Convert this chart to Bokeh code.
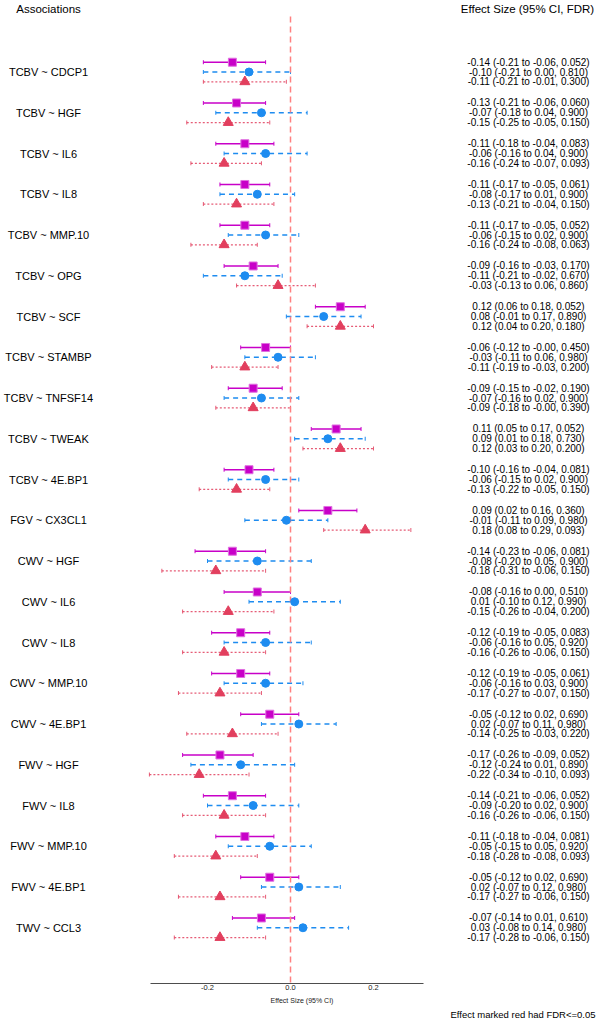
from bokeh.plotting import figure
from bokeh.models import (ColumnDataSource, Range1d, Whisker, Title,
                          TeeHead, Legend, LegendItem, FixedTicker)
from bokeh.embed import file_html
from bokeh.resources import INLINE
from bokeh.core.properties import value

associations = ["TCBV ~ CDCP1", "TCBV ~ HGF", "TCBV ~ IL6", "TCBV ~ IL8", "TCBV ~ MMP.10",
                "TCBV ~ OPG", "TCBV ~ SCF", "TCBV ~ STAMBP", "TCBV ~ TNFSF14", "TCBV ~ TWEAK",
                "TCBV ~ 4E.BP1", "FGV ~ CX3CL1", "CWV ~ HGF", "CWV ~ IL6", "CWV ~ IL8",
                "CWV ~ MMP.10", "CWV ~ 4E.BP1", "FWV ~ HGF", "FWV ~ IL8", "FWV ~ MMP.10",
                "FWV ~ 4E.BP1", "TWV ~ CCL3"]

full_est = [-0.14, -0.13, -0.11, -0.11, -0.11, -0.09, 0.12, -0.06, -0.09, 0.11, -0.10, 0.09,
            -0.14, -0.08, -0.12, -0.12, -0.05, -0.17, -0.14, -0.11, -0.05, -0.07]
full_lo = [-0.21, -0.21, -0.18, -0.17, -0.17, -0.16, 0.06, -0.12, -0.15, 0.05, -0.16, 0.02,
           -0.23, -0.16, -0.19, -0.19, -0.12, -0.26, -0.21, -0.18, -0.12, -0.14]
full_hi = [-0.06, -0.06, -0.04, -0.05, -0.05, -0.03, 0.18, -0.0, -0.02, 0.17, -0.04, 0.16,
           -0.06, 0.00, -0.05, -0.05, 0.02, -0.09, -0.06, -0.04, 0.02, 0.01]
full_fdr = [0.052, 0.060, 0.083, 0.061, 0.052, 0.170, 0.052, 0.450, 0.190, 0.052, 0.081, 0.360,
            0.081, 0.510, 0.083, 0.061, 0.690, 0.052, 0.052, 0.081, 0.690, 0.610]

female_est = [-0.10, -0.07, -0.06, -0.08, -0.06, -0.11, 0.08, -0.03, -0.07, 0.09, -0.06, -0.01,
              -0.08, 0.01, -0.06, -0.06, 0.02, -0.12, -0.09, -0.05, 0.02, 0.03]
female_lo = [-0.21, -0.18, -0.16, -0.17, -0.15, -0.21, -0.01, -0.11, -0.16, 0.01, -0.15, -0.11,
             -0.20, -0.10, -0.16, -0.16, -0.07, -0.24, -0.20, -0.15, -0.07, -0.08]
female_hi = [0.00, 0.04, 0.04, 0.01, 0.02, -0.02, 0.17, 0.06, 0.02, 0.18, 0.02, 0.09,
             0.05, 0.12, 0.05, 0.03, 0.11, 0.01, 0.02, 0.05, 0.12, 0.14]
female_fdr = [0.810, 0.900, 0.900, 0.900, 0.900, 0.670, 0.890, 0.980, 0.900, 0.730, 0.900, 0.980,
              0.900, 0.990, 0.920, 0.900, 0.980, 0.890, 0.900, 0.920, 0.980, 0.980]

male_est = [-0.11, -0.15, -0.16, -0.13, -0.16, -0.03, 0.12, -0.11, -0.09, 0.12, -0.13, 0.18,
            -0.18, -0.15, -0.16, -0.17, -0.14, -0.22, -0.16, -0.18, -0.17, -0.17]
male_lo = [-0.21, -0.25, -0.24, -0.21, -0.24, -0.13, 0.04, -0.19, -0.18, 0.03, -0.22, 0.08,
           -0.31, -0.26, -0.26, -0.27, -0.25, -0.34, -0.26, -0.28, -0.27, -0.28]
male_hi = [-0.01, -0.05, -0.07, -0.04, -0.08, 0.06, 0.20, -0.03, -0.0, 0.20, -0.05, 0.29,
           -0.06, -0.04, -0.06, -0.07, -0.03, -0.10, -0.06, -0.08, -0.06, -0.06]
male_fdr = [0.300, 0.150, 0.093, 0.150, 0.063, 0.860, 0.180, 0.200, 0.390, 0.200, 0.150, 0.093,
            0.150, 0.200, 0.150, 0.150, 0.220, 0.093, 0.150, 0.093, 0.150, 0.150]

series_labels = ["Full (n=646)", "Female (n=338)", "Male (n=308)"]
tick_values = [-0.2, 0.0, 0.2]
tick_labels = ["-0.2", "0.0", "0.2"]

FONT = "Liberation Sans"
C_FULL = "#C800C8"
C_FEM = "#1E8CF0"
C_MALE = "#E23F5E"

n = len(associations)
OFF = 0.24
W, H = 603, 1032
BOT = 983          # pixel row of the x axis line
TOP = 16           # top of the reference line
# layout mapping (pixels -> data) used only to place texts
G0, GS = 71.5, 40.75     # group i centre at row 71.5 + 40.75*i
X0, XS = 290.0, 415.0    # effect 0 at column 290, 415 px per unit


def gy(py):
    return (py - G0) / GS


def gx(px):
    return (px - X0) / XS


def fmt(e, l, h, f):
    return f"{e:.2f} ({l:.2f} to {h:.2f}, {f:.3f})"


def make_src(est, lo, hi, fdr, off):
    return ColumnDataSource(dict(
        y=[i + off for i in range(n)], est=est, lo=lo, hi=hi,
        txt=[fmt(*t) for t in zip(est, lo, hi, fdr)]))


src_full = make_src(full_est, full_lo, full_hi, full_fdr, -OFF)
src_fem = make_src(female_est, female_lo, female_hi, female_fdr, 0.0)
src_male = make_src(male_est, male_lo, male_hi, male_fdr, OFF)
src_lab = ColumnDataSource(dict(y=list(range(n)), name=associations))

p = figure(frame_width=W, frame_height=BOT,
           x_range=Range1d(gx(0), gx(W)), y_range=Range1d(gy(BOT), gy(0)),
           y_axis_location=None, output_backend="svg", toolbar_location=None,
           min_border_left=0, min_border_right=0, min_border_top=0,
           min_border_bottom=0)
p.outline_line_color = None
p.xgrid.visible = False
p.ygrid.visible = False

ax = p.xaxis[0]
ax.bounds = (gx(150), gx(423))
ax.ticker = FixedTicker(ticks=tick_values)
ax.major_label_overrides = {v: s for v, s in zip(tick_values, tick_labels)}
ax.major_tick_out = 0
ax.major_tick_in = 0
ax.minor_tick_out = 0
ax.minor_tick_in = 0
ax.axis_line_color = "#4d4d4d"
ax.axis_line_width = 1
ax.major_label_text_font = FONT
ax.major_label_text_font_size = "7.5px"
ax.major_label_text_color = "#222222"
ax.major_label_standoff = 1
ax.axis_label = "Effect Size (95% CI)"
ax.axis_label_text_font = FONT
ax.axis_label_text_font_style = "normal"
ax.axis_label_text_font_size = "7px"
ax.axis_label_text_color = "#222222"
ax.axis_label_standoff = 4

# reference line at zero
p.segment(x0=[0.0], y0=[gy(TOP)], x1=[0.0], y1=[gy(BOT)], line_color="#FF8080",
          line_dash="6 4", line_width=1.5)

styles = [
    (src_full, C_FULL, "solid", 1.6, 1.0),
    (src_fem, C_FEM, "5 4", 1.5, 1.0),
    (src_male, C_MALE, "2 2", 1.3, 0.85),
]
for src, col, dash, lw, alpha in styles:
    p.add_layout(Whisker(source=src, base="y", lower="lo", upper="hi", dimension="width",
                         line_color=col, line_dash=dash, line_width=lw, line_alpha=alpha,
                         upper_head=TeeHead(size=4, line_color=col, line_width=1, line_alpha=alpha),
                         lower_head=TeeHead(size=4, line_color=col, line_width=1, line_alpha=alpha)))

r_full = p.scatter("est", "y", source=src_full, marker="square", size=8,
                   fill_color=C_FULL, line_color="#E070E0", line_width=1)
r_fem = p.scatter("est", "y", source=src_fem, marker="circle", size=8,
                  fill_color=C_FEM, line_color=C_FEM, line_width=1)
r_male = p.scatter("est", "y", source=src_male, marker="triangle", size=10,
                   fill_color=C_MALE, line_color=C_MALE, line_width=1)

# left association labels
p.text(x=gx(48), y="y", text="name", source=src_lab, text_align="center",
       text_baseline="middle", text_font=value(FONT), text_font_size="11px",
       text_color="#000000")
# right effect texts
for src in (src_full, src_fem, src_male):
    p.text(x=gx(528), y="y", text="txt", source=src, text_align="center",
           text_baseline="middle", text_font=value(FONT), text_font_size="10px",
           text_color="#000000")
# headers
p.text(x=[gx(48), gx(527)], y=[gy(8), gy(8)],
       text=["Associations", "Effect Size (95% CI, FDR)"], text_align="center",
       text_baseline="middle", text_font=value(FONT), text_font_size="11.5px",
       text_color="#000000")

note = Title(text="Effect marked red had FDR<=0.05", align="right", offset=8, standoff=0,
             text_font=FONT, text_font_size="9.5px", text_font_style="normal",
             text_color="#000000")
p.add_layout(note, "below")

legend = Legend(items=[LegendItem(label=series_labels[0], renderers=[r_full]),
                       LegendItem(label=series_labels[1], renderers=[r_fem]),
                       LegendItem(label=series_labels[2], renderers=[r_male])],
                location=(203, 0), orientation="horizontal",
                label_text_font=FONT, label_text_font_size="5px", label_text_color="#222222",
                glyph_width=8, glyph_height=8, label_standoff=2, spacing=6,
                padding=0, margin=0, label_height=8,
                background_fill_alpha=0, border_line_color=None)
p.add_layout(legend, "below")

open("out.html", "w").write(file_html(p, INLINE))
